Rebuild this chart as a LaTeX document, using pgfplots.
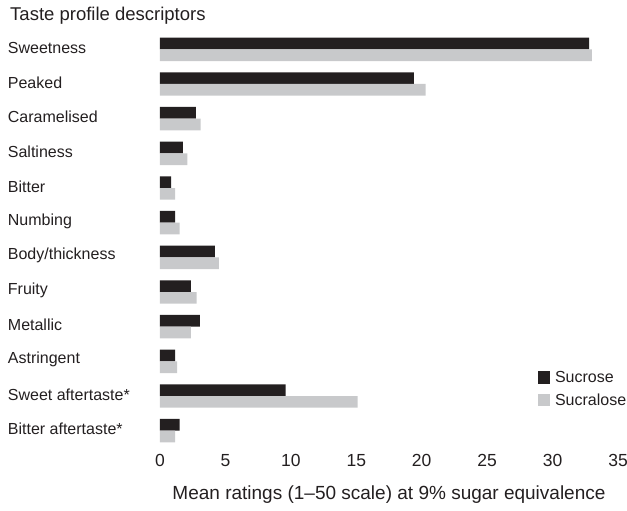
\documentclass[border=0pt]{standalone}
\usepackage{pgfplots}
\pgfplotsset{compat=1.18}
\usepackage{pgfplotstable}
\usepackage{fontspec}
\setmainfont{Liberation Sans}
\definecolor{sucrose}{HTML}{231F20}
\definecolor{sucralose}{HTML}{C8C9CB}
\definecolor{txt}{HTML}{231F20}

% pos value: descriptors in order from top (0) to bottom (11)
\pgfplotstableread{
pos sucrose sucralose
0   32.8  33.0
1   19.4  20.3
2   2.75  3.1
3   1.75  2.1
4   0.85  1.15
5   1.15  1.5
6   4.2   4.5
7   2.35  2.8
8   3.05  2.35
9   1.15  1.3
10  9.6   15.1
11  1.5   1.15
}\tastedata

\begin{document}
\begin{tikzpicture}[font=\fontsize{16}{18}\selectfont, text=txt]
\begin{axis}[
    scale only axis,
    width=458pt, height=416pt,
    xmin=0, xmax=35,
    ymin=-0.5, ymax=11.5,
    y dir=reverse,
    xbar, bar width=11.7pt,
    axis line style={draw=none},
    tick style={draw=none},
    xtick={0,5,...,35},
    ytick={0,...,11},
    yticklabels={Sweetness, Peaked, Caramelised, Saltiness, Bitter, Numbing,
        Body/thickness, Fruity, Metallic, Astringent, Sweet aftertaste*,
        Bitter aftertaste*},
    yticklabel style={anchor=west, inner sep=0pt, xshift=-148pt, yshift=1.5pt},
    xticklabel style={font=\fontsize{17.5}{20}\selectfont, yshift=-3pt},
    /pgf/number format/assume math mode=true,
    xlabel={Mean ratings (1--50 scale) at 9\% sugar equivalence},
    xlabel style={font=\fontsize{19}{22}\selectfont, yshift=-12pt},
    title={Taste profile descriptors},
    title style={font=\fontsize{18.5}{22}\selectfont, at={(axis description cs:0,1)},
        anchor=base west, inner sep=0pt, xshift=-150pt, yshift=5pt},
    legend style={draw=none, fill=none, at={(axis description cs:0.825,0.19)},
        anchor=north west, font=\fontsize{16}{18}\selectfont,
        row sep=6pt, inner sep=0pt, nodes={inner xsep=5pt}},
    legend cell align=left,
    legend image code/.code={\fill[#1, draw=none] (0pt,-6pt) rectangle (12pt,6pt);},
]
\addplot[fill=sucrose, draw=none, bar shift=5.85pt] table[x=sucrose, y=pos] {\tastedata};
\addlegendentry{Sucrose}
\addplot[fill=sucralose, draw=none, bar shift=-5.85pt] table[x=sucralose, y=pos] {\tastedata};
\addlegendentry{Sucralose}
\coordinate (tl) at (axis description cs:0,1);
\coordinate (br) at (axis description cs:1,0);
\end{axis}
\pgfresetboundingbox
\path ([xshift=-160pt, yshift=32pt]tl) rectangle ([xshift=9pt, yshift=-62pt]br);
\end{tikzpicture}
\end{document}
